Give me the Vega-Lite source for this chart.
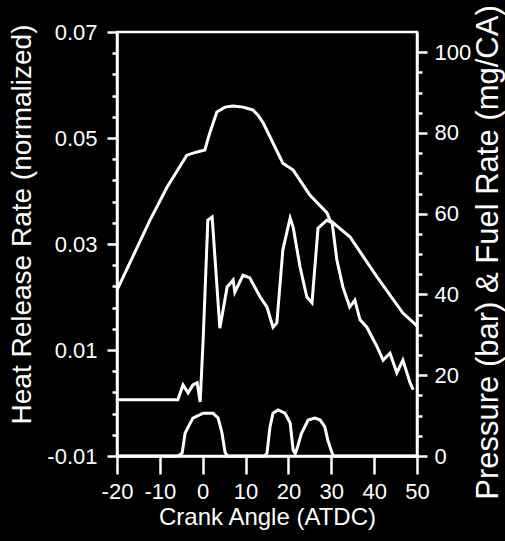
{
  "$schema": "https://vega.github.io/schema/vega-lite/v6.json",
  "width": 300,
  "height": 424,
  "autosize": {"type": "none"},
  "padding": {"left": 117, "top": 32, "right": 88, "bottom": 85},
  "background": "black",
  "config": {
    "view": {"stroke": "white", "strokeWidth": 2.5},
    "axis": {
      "grid": false,
      "domainColor": "white",
      "domainWidth": 2.5,
      "tickColor": "white",
      "tickWidth": 2.5,
      "labelColor": "white",
      "titleColor": "white",
      "labelFont": "Liberation Sans",
      "titleFont": "Liberation Sans",
      "labelFontSize": 22,
      "titleFontWeight": "normal",
      "labelOverlap": false,
      "labelFlush": false
    }
  },
  "data": {
    "values": [
      {"series": "Pressure", "angle": -20, "value": 41.1},
      {"series": "Pressure", "angle": -12.3, "value": 58.4},
      {"series": "Pressure", "angle": -8.3, "value": 66.6},
      {"series": "Pressure", "angle": -3.7, "value": 74.5},
      {"series": "Pressure", "angle": -1.3, "value": 75.3},
      {"series": "Pressure", "angle": 0.5, "value": 75.8},
      {"series": "Pressure", "angle": 1.7, "value": 80.2},
      {"series": "Pressure", "angle": 3.3, "value": 85.2},
      {"series": "Pressure", "angle": 5.2, "value": 86.4},
      {"series": "Pressure", "angle": 7.1, "value": 86.7},
      {"series": "Pressure", "angle": 9.4, "value": 86.4},
      {"series": "Pressure", "angle": 11.7, "value": 85.7},
      {"series": "Pressure", "angle": 12.9, "value": 84.4},
      {"series": "Pressure", "angle": 14.1, "value": 82.5},
      {"series": "Pressure", "angle": 18.7, "value": 72.5},
      {"series": "Pressure", "angle": 21.1, "value": 70.8},
      {"series": "Pressure", "angle": 25.0, "value": 64.6},
      {"series": "Pressure", "angle": 29.0, "value": 60.2},
      {"series": "Pressure", "angle": 29.7, "value": 58.4},
      {"series": "Pressure", "angle": 34.4, "value": 54.2},
      {"series": "Pressure", "angle": 40.7, "value": 44.3},
      {"series": "Pressure", "angle": 46.7, "value": 35.4},
      {"series": "Pressure", "angle": 50.0, "value": 32.2},

      {"series": "Fuel", "angle": -20, "value": 0},
      {"series": "Fuel", "angle": -5.8, "value": 0},
      {"series": "Fuel", "angle": -4.8, "value": 0.7},
      {"series": "Fuel", "angle": -4.1, "value": 5.7},
      {"series": "Fuel", "angle": -2.3, "value": 9.4},
      {"series": "Fuel", "angle": 0.1, "value": 10.6},
      {"series": "Fuel", "angle": 2.4, "value": 10.6},
      {"series": "Fuel", "angle": 3.6, "value": 9.4},
      {"series": "Fuel", "angle": 4.5, "value": 5.7},
      {"series": "Fuel", "angle": 5.2, "value": 1.0},
      {"series": "Fuel", "angle": 5.7, "value": 0},
      {"series": "Fuel", "angle": 14.5, "value": 0},
      {"series": "Fuel", "angle": 15.0, "value": 0.7},
      {"series": "Fuel", "angle": 15.7, "value": 7.2},
      {"series": "Fuel", "angle": 16.4, "value": 10.6},
      {"series": "Fuel", "angle": 17.6, "value": 11.4},
      {"series": "Fuel", "angle": 19.2, "value": 10.6},
      {"series": "Fuel", "angle": 20.4, "value": 8.2},
      {"series": "Fuel", "angle": 21.1, "value": 1.5},
      {"series": "Fuel", "angle": 21.6, "value": 0.6},
      {"series": "Fuel", "angle": 22.2, "value": 2.5},
      {"series": "Fuel", "angle": 23.0, "value": 5.5},
      {"series": "Fuel", "angle": 24.6, "value": 8.9},
      {"series": "Fuel", "angle": 26.2, "value": 9.4},
      {"series": "Fuel", "angle": 27.4, "value": 8.9},
      {"series": "Fuel", "angle": 28.5, "value": 7.2},
      {"series": "Fuel", "angle": 29.2, "value": 3.9},
      {"series": "Fuel", "angle": 30.2, "value": 0.7},
      {"series": "Fuel", "angle": 30.6, "value": 0},
      {"series": "Fuel", "angle": 50, "value": 0},

      {"series": "HRR", "angle": -20, "value": 0.0006},
      {"series": "HRR", "angle": -5.8, "value": 0.0006},
      {"series": "HRR", "angle": -4.6, "value": 0.0034},
      {"series": "HRR", "angle": -3.4, "value": 0.0019},
      {"series": "HRR", "angle": -2.3, "value": 0.0034},
      {"series": "HRR", "angle": -1.3, "value": 0.0038},
      {"series": "HRR", "angle": -0.6, "value": 0.0002},
      {"series": "HRR", "angle": 0.1, "value": 0.0119},
      {"series": "HRR", "angle": 1.2, "value": 0.0345},
      {"series": "HRR", "angle": 2.2, "value": 0.0351},
      {"series": "HRR", "angle": 4.0, "value": 0.0141},
      {"series": "HRR", "angle": 5.7, "value": 0.0219},
      {"series": "HRR", "angle": 7.1, "value": 0.0232},
      {"series": "HRR", "angle": 7.5, "value": 0.0209},
      {"series": "HRR", "angle": 9.4, "value": 0.0241},
      {"series": "HRR", "angle": 11.0, "value": 0.0236},
      {"series": "HRR", "angle": 13.4, "value": 0.0200},
      {"series": "HRR", "angle": 15.0, "value": 0.0181},
      {"series": "HRR", "angle": 16.4, "value": 0.0143},
      {"series": "HRR", "angle": 17.3, "value": 0.0151},
      {"series": "HRR", "angle": 18.7, "value": 0.0289},
      {"series": "HRR", "angle": 20.4, "value": 0.0349},
      {"series": "HRR", "angle": 21.1, "value": 0.0332},
      {"series": "HRR", "angle": 22.7, "value": 0.0257},
      {"series": "HRR", "angle": 24.3, "value": 0.0200},
      {"series": "HRR", "angle": 25.5, "value": 0.0189},
      {"series": "HRR", "angle": 26.9, "value": 0.0330},
      {"series": "HRR", "angle": 29.0, "value": 0.0345},
      {"series": "HRR", "angle": 30.2, "value": 0.0340},
      {"series": "HRR", "angle": 31.3, "value": 0.0270},
      {"series": "HRR", "angle": 32.7, "value": 0.0219},
      {"series": "HRR", "angle": 34.3, "value": 0.0181},
      {"series": "HRR", "angle": 35.5, "value": 0.0194},
      {"series": "HRR", "angle": 36.7, "value": 0.0157},
      {"series": "HRR", "angle": 38.3, "value": 0.0143},
      {"series": "HRR", "angle": 39.0, "value": 0.0132},
      {"series": "HRR", "angle": 40.7, "value": 0.0106},
      {"series": "HRR", "angle": 42.1, "value": 0.0081},
      {"series": "HRR", "angle": 43.7, "value": 0.0094},
      {"series": "HRR", "angle": 45.3, "value": 0.0057},
      {"series": "HRR", "angle": 46.7, "value": 0.0081},
      {"series": "HRR", "angle": 48.4, "value": 0.0038},
      {"series": "HRR", "angle": 49.1, "value": 0.0025}
    ]
  },
  "encoding": {
    "x": {
      "field": "angle",
      "type": "quantitative",
      "scale": {"domain": [-20, 50], "nice": false},
      "axis": {
        "values": [-20, -10, 0, 10, 20, 30, 40, 50],
        "labelExpr": "(datum.value < 0 ? '-' : '') + abs(datum.value)",
        "tickSize": 18,
        "labelPadding": 7,
        "title": "Crank Angle (ATDC)",
        "titleFontSize": 24,
        "titlePadding": 3
      }
    }
  },
  "layer": [
    {
      "transform": [{"filter": "datum.series !== 'HRR'"}],
      "mark": {"type": "line", "color": "white", "strokeWidth": 3},
      "encoding": {
        "detail": {"field": "series"},
        "y": {
          "field": "value",
          "type": "quantitative",
          "scale": {"domain": [0, 105], "nice": false, "zero": false},
          "axis": {
            "orient": "right",
            "values": [0, 5, 10, 15, 20, 25, 30, 35, 40, 45, 50, 55, 60, 65, 70, 75, 80, 85, 90, 95, 100],
            "labelExpr": "datum.value % 20 === 0 ? datum.label : ''",
            "tickSize": {"condition": {"test": "datum.value % 20 === 0", "value": 10}, "value": 5},
            "labelPadding": 7,
            "title": "Pressure (bar) & Fuel Rate (mg/CA)",
            "titleFontSize": 31,
            "titleAngle": 270,
            "titleBaseline": "top",
            "titlePadding": 3,
            "titleY": 220
          }
        }
      }
    },
    {
      "transform": [{"filter": "datum.series === 'HRR'"}],
      "mark": {"type": "line", "color": "white", "strokeWidth": 3},
      "encoding": {
        "y": {
          "field": "value",
          "type": "quantitative",
          "scale": {"domain": [-0.01, 0.07], "nice": false, "zero": false},
          "axis": {
            "orient": "left",
            "values": [-0.01, -0.006, -0.002, 0.002, 0.006, 0.01, 0.014, 0.018, 0.022, 0.026, 0.03, 0.034, 0.038, 0.042, 0.046, 0.05, 0.054, 0.058, 0.062, 0.066, 0.07],
            "labelExpr": "abs((datum.value + 0.01) / 0.02 - round((datum.value + 0.01) / 0.02)) < 0.01 ? (datum.value < 0 ? '-' : '') + format(abs(datum.value), '.2f') : ''",
            "tickSize": {"condition": {"test": "abs((datum.value + 0.01) / 0.02 - round((datum.value + 0.01) / 0.02)) < 0.01", "value": 10}, "value": 5},
            "labelPadding": 10,
            "title": "Heat Release Rate (normalized)",
            "titleFontSize": 28,
            "titlePadding": 10,
            "titleY": 192
          }
        }
      }
    }
  ],
  "resolve": {"scale": {"y": "independent"}}
}
